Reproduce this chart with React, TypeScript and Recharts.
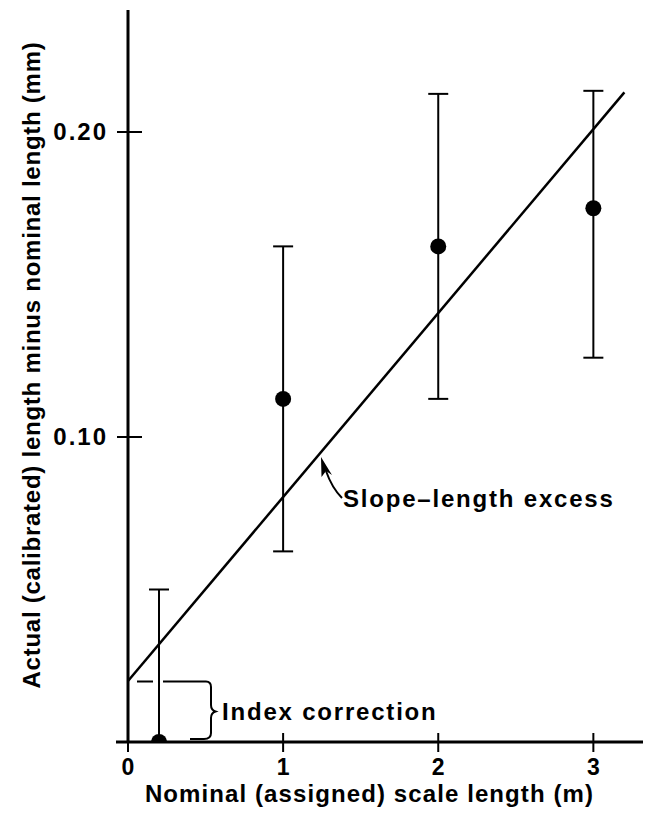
import React from 'react';
import { ScatterChart, Scatter, XAxis, YAxis, ErrorBar, ReferenceLine, Customized, Label } from 'recharts';

// nominal scale length (m) and measured excess (mm)
const lengths = [0.2, 1, 2, 3];
const meanExcess = [0.0, 0.1125, 0.1625, 0.175];
const errLow = [0, 0.05, 0.05, 0.049];
const errHigh = [0.05, 0.05, 0.05, 0.0385];

// fitted line: index correction + slope-length excess
const fitStart = { x: 0, y: 0.02 };
const fitEnd = { x: 3.2, y: 0.213 };

const xTicks = [0, 1, 2, 3];
const yTicks = [0.1, 0.2];

const points = lengths.map((x, i) => ({
  x,
  y: meanExcess[i],
  err: [errLow[i], errHigh[i]],
}));

const FONT = '"Liberation Sans", Arial, Helvetica, sans-serif';

const XTick = ({ x, y, payload }: any) => {
  const axisY = y - 14;
  return (
    <g>
      <line x1={x} x2={x} y1={axisY - 9} y2={axisY + 10} stroke="#000" strokeWidth={2} />
      <text x={x} y={y} dy={19} textAnchor="middle" fontFamily={FONT} fontWeight="bold" fontSize={23} fill="#000">
        {payload.value}
      </text>
    </g>
  );
};

const YTick = ({ x, y, payload }: any) => {
  const axisX = x + 20;
  return (
    <g>
      <line x1={axisX - 11} x2={axisX + 14} y1={y} y2={y} stroke="#000" strokeWidth={2} />
      <text x={x} y={y} dy={8} textAnchor="end" fontFamily={FONT} fontWeight="bold" fontSize={24} letterSpacing={2} fill="#000">
        {payload.value.toFixed(2)}
      </text>
    </g>
  );
};

// points sitting on the axis show only their upper half
const Dot = (props: any) => {
  const { cx, cy } = props;
  return <circle cx={cx} cy={cy} r={8} fill="#000" clipPath="url(#plot-clip)" />;
};

const Annotations = () => (
  <g fontFamily={FONT} fontWeight="bold" fill="#000">
    <defs>
      <clipPath id="plot-clip">
        <rect x={0} y={0} width={655} height={741} />
      </clipPath>
    </defs>
    {/* axis stub left of origin */}
    <line x1={116} x2={128} y1={742} y2={742} stroke="#000" strokeWidth={3} />
    {/* index correction bracket */}
    <path d="M 137 681.5 L 153 681.5 M 163 681.5 L 206 681.5 Q 211 681.5 211 687 L 211 705 Q 211 710 215.5 711.5 Q 211 713 211 718 L 211 733 Q 211 739 204 739 L 190 739"
      fill="none" stroke="#000" strokeWidth={2} />
    <text x={222} y={720} fontSize={24} letterSpacing={1.8}>Index correction</text>
    {/* slope-length excess arrow */}
    <path d="M 342 498 Q 332 488 326 471" fill="none" stroke="#000" strokeWidth={2} />
    <polygon points="321,457 321.5,477 326,471 332,475" fill="#000" />
    <text x={343} y={507} fontSize={24} letterSpacing={1.8}>Slope–length excess</text>
  </g>
);

export default function App() {
  return (
    <div style={{ position: 'absolute', left: 0, top: 0, background: '#fff' }}>
      <ScatterChart width={655} height={819} margin={{ top: 10, right: 12, bottom: 37, left: 8 }}>
        <XAxis
          type="number"
          dataKey="x"
          domain={[0, 3.32]}
          ticks={xTicks}
          height={40}
          tickSize={10}
          tickMargin={4}
          tickLine={false}
          tick={<XTick />}
          axisLine={{ stroke: '#000', strokeWidth: 3 }}
        >
          <Label
            value="Nominal (assigned) scale length (m)"
            position="bottom"
            offset={3}
            dx={-16}
            style={{ fontFamily: FONT, fontWeight: 'bold', fontSize: 24, letterSpacing: 1.1, fill: '#000' }}
          />
        </XAxis>
        <YAxis
          type="number"
          dataKey="y"
          domain={[0, 0.24]}
          ticks={yTicks}
          width={120}
          tickSize={12}
          tickMargin={8}
          tickLine={false}
          tick={<YTick />}
          axisLine={{ stroke: '#000', strokeWidth: 3 }}
          label={{
            content: () => (
              <text
                transform="translate(40,365) rotate(-90)"
                textAnchor="middle"
                fontFamily={FONT}
                fontWeight="bold"
                fontSize={24}
                letterSpacing={0.75}
                fill="#000"
              >
                Actual (calibrated) length minus nominal length (mm)
              </text>
            ),
          }}
        />
        <ReferenceLine segment={[fitStart, fitEnd]} stroke="#000" strokeWidth={2.5} ifOverflow="visible" />
        <Scatter data={points} shape={<Dot />} isAnimationActive={false}>
          <ErrorBar dataKey="err" direction="y" width={10} stroke="#000" strokeWidth={2} isAnimationActive={false} />
        </Scatter>
        <Customized component={<Annotations />} />
      </ScatterChart>
    </div>
  );
}
